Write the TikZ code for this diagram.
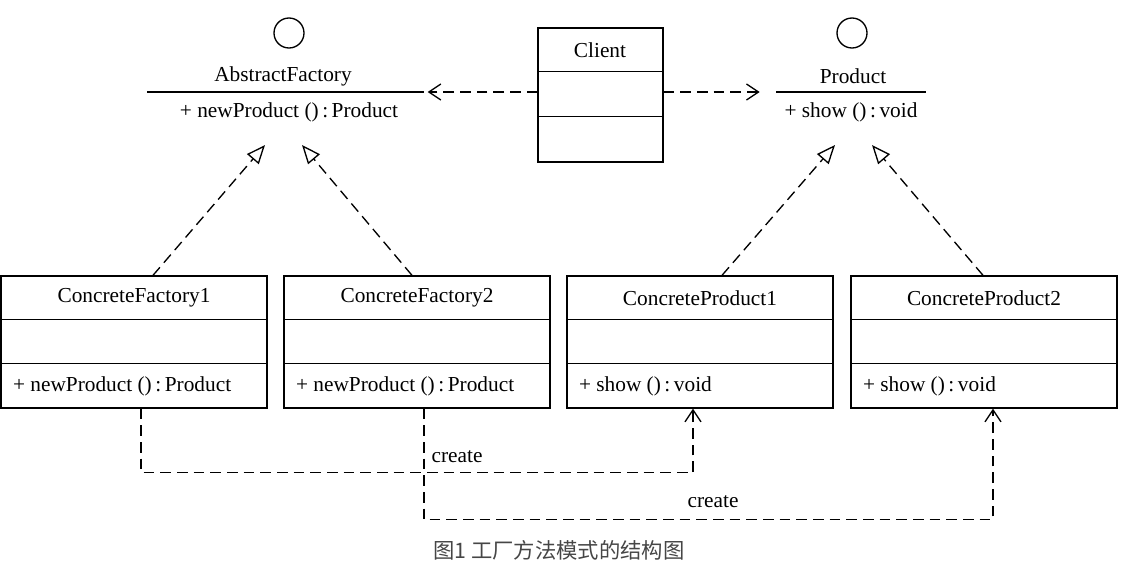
\documentclass[tikz,border=0pt]{standalone}
\usepackage{fontspec}
\setmainfont{Liberation Serif}
\newfontfamily\cjk{Noto Sans CJK SC}
\usetikzlibrary{arrows.meta}
\definecolor{capgray}{RGB}{70,70,70}

\begin{document}
\begin{tikzpicture}[x=0.75pt,y=-0.75pt,line width=1pt,
    every node/.style={inner sep=0pt, font=\fontsize{16}{18}\selectfont},
    cls/.style={draw, minimum width=199.5pt, minimum height=99pt},
    iface/.style={draw, circle, minimum size=22.5pt},
    dep/.style={dash pattern=on 8pt off 4.5pt, -{Straight Barb[length=9pt,width=12pt]}},
    realize/.style={dash pattern=on 8pt off 4.5pt, -{Triangle[open,length=14pt,width=11.5pt]}}]
    \useasboundingbox (0,0) rectangle (1123,568);
    % interfaces
    \node[iface] (afi) at (289,33) {};
    \node (afn) at (283,76) {AbstractFactory};
    \node[minimum width=206.25pt] (af) at (285.5,92) {};
    \draw (af.west) -- (af.east);
    \node (afm) at (289,112) {+ newProduct ()\,:\,Product};
    \node[iface] (pi) at (852,33) {};
    \node (pn) at (853,76) {Product};
    \node[minimum width=111pt] (p) at (851,92) {};
    \draw (p.west) -- (p.east);
    \node (pm) at (851,112) {+ show ()\,:\,void};
    % client
    \node[cls, minimum width=93.75pt, minimum height=100.5pt] (client) at (600.5,95) {};
    \draw (client.north west) ++(0,44) -- ++(125,0) ++(-125,45) -- ++(125,0);
    \node (clientt) at (600,50) {Client};
    \draw[dep, shorten >=3pt] (client.west |- af.east) -- (af.east);
    \draw[dep, shorten >=12.5pt] (client.east |- p.west) -- (p.west);
    % concrete classes
    \foreach \n/\x/\t/\m in {cf1/134/ConcreteFactory1/{+ newProduct ()\,:\,Product},
        cf2/417/ConcreteFactory2/{+ newProduct ()\,:\,Product},
        cp1/700/ConcreteProduct1/{+ show ()\,:\,void},
        cp2/984/ConcreteProduct2/{+ show ()\,:\,void}} {
        \node[cls] (\n) at (\x,342) {};
        \draw (\n.north west) ++(0,44) -- ++(266,0) ++(-266,44) -- ++(266,0);
        \node (\n t) at (\x,298) {\t};
        \node[anchor=west] (\n m) at ([shift={(12,-22)}]\n.south west) {\m};
    }
    % realization
    \coordinate (afl) at (265,145);
    \coordinate (afr) at (302,145);
    \coordinate (pl) at (835,145);
    \coordinate (pr) at (872,145);
    \draw[realize] (cf1.north -| 153,0) -- (afl);
    \draw[realize] (cf2.north -| 412,0) -- (afr);
    \draw[realize] (cp1.north -| 722,0) -- (pl);
    \draw[realize] (cp2.north -| 983,0) -- (pr);
    % create
    \draw[dep] (cf1.south -| 141,0) -- ++(0,64) -| (cp1.south -| 693,0);
    \draw[dep] (cf2.south -| 424,0) -- ++(0,111) -| (cp2.south -| 993,0);
    \node (crl1) at (457,457) {create};
    \node (crl2) at (713,502) {create};
    % caption
    \node[font=\cjk\fontsize{16}{18}\selectfont, text=capgray] (cap) at (559,550) {图1 工厂方法模式的结构图};
\end{tikzpicture}
\end{document}
